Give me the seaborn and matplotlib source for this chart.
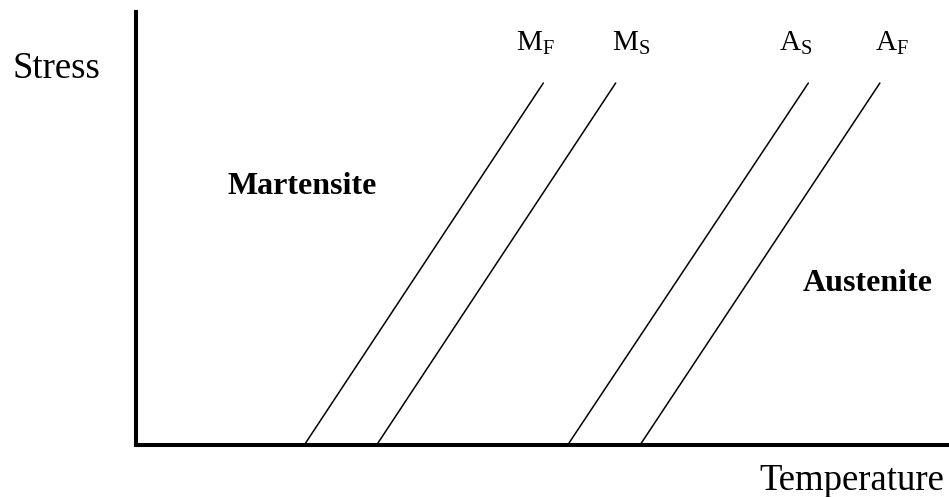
import numpy as np
import pandas as pd
import matplotlib
matplotlib.use('Agg')
import matplotlib.pyplot as plt
import seaborn as sns

# transformation lines: temperature at zero stress and at the top of each line
phases = ['M_F', 'M_S', 'A_S', 'A_F']
temp_start = [20.7, 29.6, 53.1, 62.0]
temp_end = [50.1, 59.0, 82.7, 91.5]
stress_top = 83.6
label_x = [49.1, 60.9, 81.2, 93.0]

sns.set_style('white')
plt.rcParams['font.family'] = ['Liberation Serif', 'DejaVu Serif']
plt.rcParams['mathtext.fontset'] = 'custom'
plt.rcParams['mathtext.rm'] = 'Liberation Serif'
plt.rcParams['mathtext.it'] = 'Liberation Serif:italic'
plt.rcParams['mathtext.bf'] = 'Liberation Serif:bold'
plt.rcParams['text.color'] = 'black'

rows = []
for p, t0, t1 in zip(phases, temp_start, temp_end):
    rows.append({'phase': p, 'temp': t0, 'stress': 0.0})
    rows.append({'phase': p, 'temp': t1, 'stress': stress_top})
df = pd.DataFrame(rows)

fig = plt.figure(figsize=(9.49, 4.97), dpi=100)
ax = fig.add_axes([136 / 949, 52 / 497, 813 / 949, 433 / 497])

sns.lineplot(data=df, x='temp', y='stress', units='phase', estimator=None,
             color='black', linewidth=1.1, sort=False, ax=ax)

ax.set_xlim(0, 100)
ax.set_ylim(0, 100)
ax.set_xticks([])
ax.set_yticks([])
ax.set_xlabel('')
ax.set_ylabel('')
for side in ['top', 'right']:
    ax.spines[side].set_visible(False)
for side in ['left', 'bottom']:
    ax.spines[side].set_linewidth(2.9)
    ax.spines[side].set_color('black')

for p, lx in zip(phases, label_x):
    ax.text(lx, 89.6, r'$\mathrm{%s}$' % p, fontsize=21, ha='center', va='bottom',
            color='black', clip_on=False)

ax.text(-9.8, 86.8, 'Stress', fontsize=26.5, ha='center', va='center',
        color='black', clip_on=False)
ax.text(88.1, -8.3, 'Temperature', fontsize=26.5, ha='center', va='center',
        color='black', clip_on=False)
ax.text(20.4, 59.8, 'Martensite', fontsize=23, fontweight='bold', ha='center',
        va='center', color='black')
ax.text(90.0, 37.2, 'Austenite', fontsize=23, fontweight='bold', ha='center',
        va='center', color='black')

fig.savefig('out.png', dpi=100)
